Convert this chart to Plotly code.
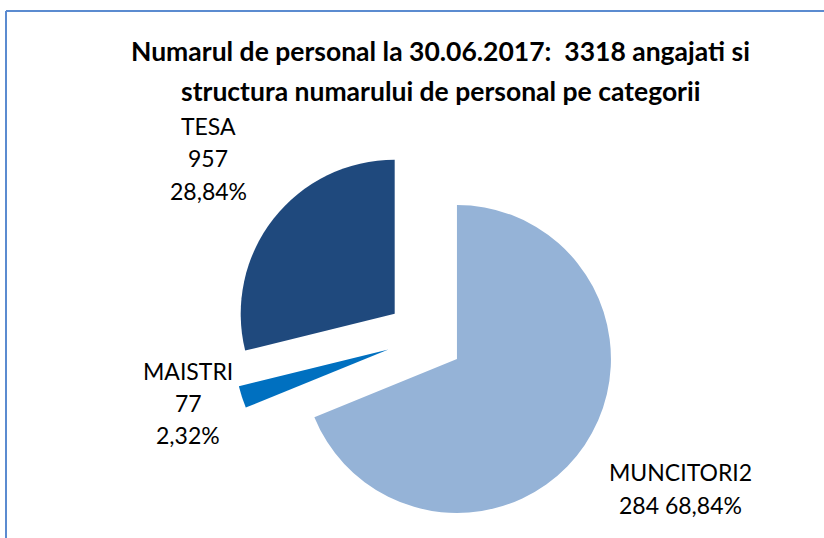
import plotly.graph_objects as go

categories = ["MUNCITORI", "MAISTRI", "TESA"]
values = [2284, 77, 957]
label_texts = ["MUNCITORI2<br>284 68,84%", "MAISTRI<br>77<br>2,32%", "TESA<br>957<br>28,84%"]
colors = ["#95B3D7", "#0070C0", "#1F497D"]
title_lines = ["Numarul de personal la 30.06.2017:  3318 angajati si",
               "structura numarului de personal pe categorii"]

W, H = 824, 538
fig = go.Figure()
fig.add_trace(go.Pie(
    labels=categories,
    values=values,
    sort=False,
    direction="clockwise",
    rotation=0,
    pull=[0.25, 0.25, 0.25],
    marker=dict(colors=colors, line=dict(width=0)),
    textinfo="none",
    hoverinfo="label+value+percent",
    showlegend=False,
    domain=dict(x=[232.5 / W, 617.5 / W], y=[8 / H, 393 / H]),
))

# label block positions (pixels from top-left): x center, first-line y, line step
label_pos = [(680, 471.5, 33.5), (188, 370.5, 32), (208, 125.5, 32.5)]
for txt, (px, py, step) in zip(label_texts, label_pos):
    for i, line in enumerate(txt.split("<br>")):
        fig.add_annotation(
            text=line, x=px / W, y=1 - (py + i * step) / H, xref="paper", yref="paper",
            showarrow=False, xanchor="center", yanchor="middle", align="center",
            font=dict(family="Lato", size=23, color="#000000"),
        )

for line, py in zip(title_lines, [51, 91]):
    fig.add_annotation(
        text="<b>" + line + "</b>", x=440 / W, y=1 - py / H, xref="paper", yref="paper",
        showarrow=False, xanchor="center", yanchor="middle", align="center",
        font=dict(family="Lato", size=26.5, color="#000000"),
    )

# chart frame
fig.add_shape(type="line", xref="paper", yref="paper", x0=6 / W, x1=1, y0=1 - 11 / H, y1=1 - 11 / H,
              line=dict(color="#5B8BD0", width=2))
fig.add_shape(type="line", xref="paper", yref="paper", x0=6 / W, x1=6 / W, y0=0, y1=1 - 11 / H,
              line=dict(color="#5B8BD0", width=2))

fig.update_layout(
    width=W, height=H,
    margin=dict(l=0, r=0, t=0, b=0),
    paper_bgcolor="white", plot_bgcolor="white",
)
fig.write_html("out.html", config={"displayModeBar": False},
               post_script="document.body.style.margin='0px';")
